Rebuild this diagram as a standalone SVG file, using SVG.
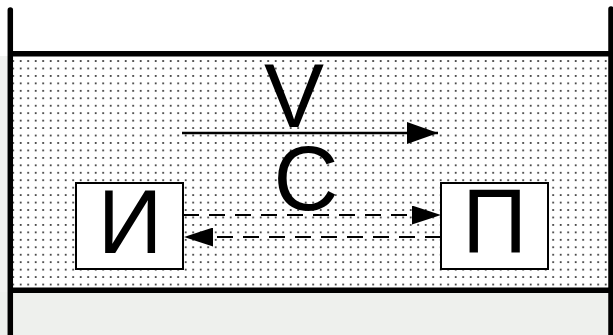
<svg xmlns="http://www.w3.org/2000/svg" width="613" height="335" viewBox="0 0 613 335">
  <style>
    .wall { stroke: #000; stroke-width: 5.5; fill: none; stroke-linecap: round; }
    .box { fill: #fff; stroke: #000; stroke-width: 2; }
    .lbl { font-family: "Liberation Sans", Arial, sans-serif; font-size: 90px; fill: #000; text-anchor: middle; }
    .solid { stroke: #000; stroke-width: 2.5; fill: none; }
    .dash { stroke: #000; stroke-width: 2; fill: none; stroke-dasharray: 16 10; }
  </style>
  <defs>
    <pattern id="dots" patternUnits="userSpaceOnUse" x="17" y="57.3" width="7.5" height="7.45">
      <circle cx="3.7" cy="3.7" r="1" fill="#222"/>
    </pattern>
    <marker id="arrBig" viewBox="0 0 31 22" refX="31" refY="11" markerWidth="31" markerHeight="22" markerUnits="userSpaceOnUse" orient="auto">
      <path d="M0,0 L31,11 L0,22 Z" fill="#000"/>
    </marker>
    <marker id="arrSmall" viewBox="0 0 29 19" refX="29" refY="9.5" markerWidth="29" markerHeight="19" markerUnits="userSpaceOnUse" orient="auto">
      <path d="M0,0 L29,9.5 L0,19 Z" fill="#000"/>
    </marker>
  </defs>

  <!-- background -->
  <rect x="0" y="0" width="613" height="335" fill="#fff"/>
  <rect x="0" y="292" width="613" height="43" fill="#eef0ed"/>
  <rect x="0" y="56" width="8" height="236" fill="#f1f2f0"/>

  <!-- channel with medium -->
  <rect x="13" y="56.5" width="595" height="231.5" fill="#fff"/>
  <rect x="13" y="56.5" width="595" height="231.5" fill="url(#dots)"/>

  <g id="walls">
    <line class="wall" x1="10.3" y1="10" x2="10.3" y2="340"/>
    <line class="wall" x1="611" y1="9" x2="611" y2="340"/>
    <line x1="10" y1="53.8" x2="611" y2="53.8" stroke="#000" stroke-width="5.5"/>
    <line x1="10" y1="290.3" x2="611" y2="290.3" stroke="#000" stroke-width="5.5"/>
  </g>

  <g id="labels">
    <text class="lbl" x="294" y="127">V</text>
    <text class="lbl" x="306" y="210">C</text>
  </g>

  <g id="connectors">
    <line class="solid" x1="182" y1="133" x2="438" y2="133" marker-end="url(#arrBig)"/>
    <line class="dash" x1="183" y1="215" x2="441" y2="215" marker-end="url(#arrSmall)"/>
    <line class="dash" x1="441" y1="237" x2="184" y2="237" marker-end="url(#arrSmall)"/>
  </g>

  <g id="node-I">
    <rect class="box" x="76" y="183" width="107" height="86"/>
    <text class="lbl" x="130" y="253">И</text>
  </g>

  <g id="node-P">
    <rect class="box" x="441" y="183" width="107" height="86"/>
    <text class="lbl" x="494.5" y="253">П</text>
  </g>
</svg>
